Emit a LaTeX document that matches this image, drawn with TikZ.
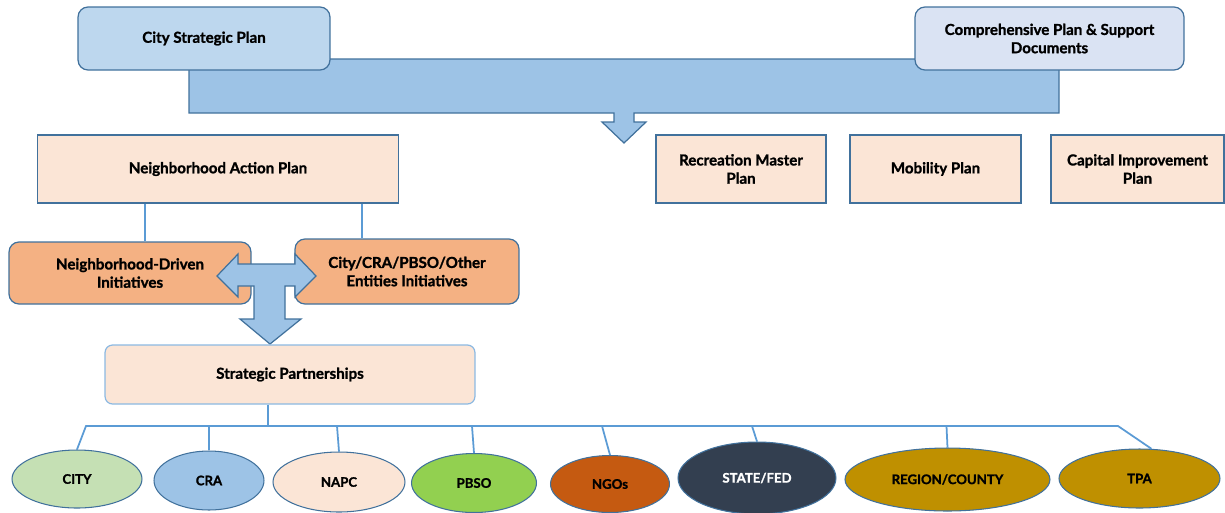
\documentclass[tikz,border=0pt]{standalone}
\usepackage{fontspec}
\setmainfont{Lato}[BoldFeatures={FakeBold=1.3}]
\usetikzlibrary{shapes.geometric}
\definecolor{topblue}{HTML}{BDD7EE}
\definecolor{paleblue}{HTML}{DAE3F3}
\definecolor{arrowblue}{HTML}{9DC3E6}
\definecolor{edgeblue}{HTML}{41719C}
\definecolor{linkblue}{HTML}{5B9BD5}
\definecolor{peach}{HTML}{FBE5D6}
\definecolor{apricot}{HTML}{F4B183}
\definecolor{sage}{HTML}{C5E0B4}
\definecolor{lime}{HTML}{92D050}
\definecolor{rust}{HTML}{C55A11}
\definecolor{slate}{HTML}{333F50}
\definecolor{ochre}{HTML}{BF9000}
\tikzset{
  txt/.style={font=\bfseries\fontsize{8.6}{10.4}\selectfont, inner sep=0pt, align=center},
  toplan/.style={txt, draw=edgeblue, line width=0.7pt, rounded corners=2mm},
  subplan/.style={txt, draw=edgeblue, fill=peach, line width=0.6pt},
  initbox/.style={txt, draw=edgeblue, fill=apricot, line width=0.7pt, rounded corners=2mm},
  partner/.style={txt, ellipse, draw=edgeblue, line width=0.6pt, font=\bfseries\fontsize{7.5}{9}\selectfont},
  link/.style={draw=linkblue, line width=1pt},
  fatarrow/.style={draw=edgeblue, fill=arrowblue, line width=0.7pt}
}
\begin{document}
\begin{tikzpicture}[x=0.02cm,y=-0.02cm]
\useasboundingbox (0,0) rectangle (1225,512);

% wide arrow behind the two top plans
\draw[fatarrow] (189,59) -- (1059,59) -- (1059,113) -- (634,113) -- (634,122) -- (646,122)
  -- (624,143) -- (602,122) -- (614,122) -- (614,113) -- (189,113) -- cycle;

\node[toplan, fill=topblue, minimum width=5.04cm, minimum height=1.26cm] (csp) at (204,38.5) {City Strategic Plan};
\node[toplan, fill=paleblue, minimum width=5.38cm, minimum height=1.26cm] (comp) at (1049.5,38.5) {Comprehensive Plan \& Support\\Documents};

\node[subplan, minimum width=7.24cm, minimum height=1.36cm] (nap) at (218,169) {Neighborhood Action Plan};
\node[subplan, minimum width=3.4cm, minimum height=1.36cm] (rec) at (741,169) {Recreation Master\\Plan};
\node[subplan, minimum width=3.42cm, minimum height=1.36cm] (mob) at (935.5,169) {Mobility Plan};
\node[subplan, minimum width=3.46cm, minimum height=1.36cm] (cip) at (1137.5,169) {Capital Improvement\\Plan};

\node[initbox, minimum width=4.84cm, minimum height=1.24cm] (ndi) at (130,273) {Neighborhood-Driven\\Initiatives};
\node[initbox, minimum width=4.48cm, minimum height=1.3cm] (eni) at (407,271.5) {City/CRA/PBSO/Other\\Entities Initiatives};

\draw[link] ([xshift=3mm]ndi.north) -- ([xshift=3mm]ndi.north |- nap.south);
\draw[link] ([xshift=-9mm]eni.north) -- ([xshift=-9mm]eni.north |- nap.south);

% two-way arrow with drop
\draw[fatarrow] (217,276) -- (238,254) -- (238,264) -- (295,264) -- (295,254) -- (316,276) -- (295,297)
  -- (295,286) -- (285,286) -- (285,319) -- (301,319) -- (270,344) -- (240,319) -- (254,319)
  -- (254,286) -- (238,286) -- (238,297) -- cycle;

\node[txt, draw=linkblue!70, fill=peach, line width=0.7pt, rounded corners=1.5mm,
  minimum width=7.4cm, minimum height=1.18cm] (sp) at (290,374.5) {Strategic Partnerships};

\node[partner, fill=sage, minimum width=2.6cm, minimum height=1.16cm] (city) at (77,479) {CITY};
\node[partner, fill=arrowblue, minimum width=2.2cm, minimum height=1.18cm] (cra) at (209,480.5) {CRA};
\node[partner, fill=peach, minimum width=2.64cm, minimum height=1.2cm] (napc) at (339,482) {NAPC};
\node[partner, fill=lime, minimum width=2.5cm, minimum height=1.18cm] (pbso) at (474,483) {PBSO};
\node[partner, fill=rust, minimum width=2.38cm, minimum height=1.14cm] (ngo) at (610,484) {NGOs};
\node[partner, fill=slate, text=white, minimum width=3.16cm, minimum height=1.44cm] (state) at (757,478) {STATE/FED};
\node[partner, fill=ochre, minimum width=4.1cm, minimum height=1.26cm] (region) at (947.5,479.5) {REGION/COUNTY};
\node[partner, fill=ochre, minimum width=3.22cm, minimum height=1.18cm] (tpa) at (1139.5,478.5) {TPA};

\coordinate (busL) at (86,426);
\coordinate (busM) at (268,426);
\coordinate (busR) at (1118,426);
\draw[link] (sp.south -| busM) -- (busM);
\draw[link] (city.north) -- (busL) -- (busR) -- (tpa.68);
\foreach \n/\d in {cra/0, napc/-2, pbso/-2, ngo/-8, state/-5, region/-1}
  \draw[link] (\n.north) -- ([xshift=\d*0.2mm]\n.north |- busM);
\end{tikzpicture}
\end{document}
